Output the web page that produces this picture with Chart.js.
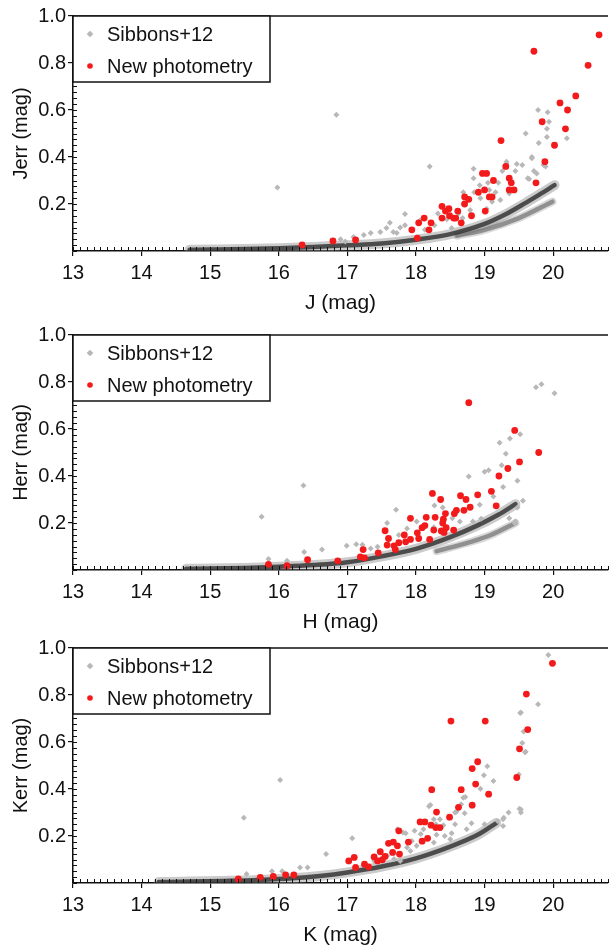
<!DOCTYPE html>
<html>
<head>
<meta charset="utf-8">
<script src="https://cdn.jsdelivr.net/npm/chart.js@4.4.1/dist/chart.umd.min.js"></script>
<style>
  html, body { margin: 0; padding: 0; background: #fff; }
  body { width: 612px; height: 947px; position: relative; overflow: hidden; }
  .panel { position: absolute; left: 0; width: 612px; height: 316px; }
</style>
</head>
<body>
<div class="panel" style="top:0px"><canvas id="jChart"></canvas></div>
<div class="panel" style="top:319px"><canvas id="hChart"></canvas></div>
<div class="panel" style="top:632px"><canvas id="kChart"></canvas></div>
<script>
// tick labels
const xTicks = [13, 14, 15, 16, 17, 18, 19, 20];
const yTicks = [0.2, 0.4, 0.6, 0.8, 1.0];

// J band: [mag, err]
const jOld = [[15.98,0.27],[16.84,0.58],[19.78,0.60],[19.92,0.59],[19.94,0.55],[19.91,0.52],[19.60,0.50],[19.79,0.46],
  [19.91,0.485],[20.20,0.48],[19.69,0.395],[19.47,0.37],[19.72,0.34],[19.76,0.33],[19.63,0.31],[19.89,0.36],[19.32,0.37],
  [19.45,0.34],[19.26,0.34],[18.20,0.36],[18.84,0.35],[19.20,0.29],[19.05,0.29],[19.16,0.25],[19.36,0.245],[18.84,0.31],
  [18.93,0.28],[18.85,0.25],[19.11,0.21],[18.69,0.20],[18.79,0.175],[18.62,0.16],[18.32,0.16],[18.45,0.135],[17.84,0.157],
  [18.06,0.13],[17.84,0.11],[17.72,0.077],[18.27,0.11],[18.13,0.09],[18.52,0.098],[18.68,0.14],[19.03,0.18],[18.94,0.225],
  [18.69,0.25],[17.62,0.12],[17.34,0.077],[17.48,0.081],[17.09,0.06],[16.90,0.05],[16.97,0.04],[17.24,0.068],[17.77,0.10],
  [17.57,0.098],[17.67,0.081],[19.32,0.38],[19.55,0.366],[19.69,0.40],[19.86,0.366],[19.65,0.306],[19.23,0.217],[19.07,0.26]];
const jNew = [[20.67,0.92],[19.72,0.85],[20.51,0.79],[20.33,0.66],[20.10,0.63],[20.21,0.60],[19.84,0.55],[20.18,0.52],
  [19.24,0.47],[20.02,0.45],[19.88,0.38],[19.31,0.36],[18.97,0.33],[19.03,0.33],[19.13,0.30],[19.36,0.31],[19.39,0.29],
  [19.75,0.29],[19.36,0.26],[19.43,0.26],[19.00,0.26],[18.91,0.25],[18.71,0.23],[19.07,0.23],[19.11,0.23],[18.77,0.22],
  [18.71,0.20],[18.38,0.19],[19.01,0.17],[18.48,0.18],[18.43,0.17],[18.61,0.17],[18.49,0.15],[18.38,0.14],[18.55,0.14],
  [18.58,0.14],[18.66,0.12],[18.81,0.15],[18.12,0.14],[18.04,0.12],[18.22,0.12],[17.94,0.09],[18.19,0.09],[18.02,0.055],
  [17.12,0.047],[16.79,0.043],[16.34,0.026]];
const jBand = [[14.7,0.005],[15.0,0.006],[15.5,0.008],[16.0,0.012],[16.5,0.017],[17.0,0.024],[17.5,0.032],[18.0,0.048],
  [18.5,0.072],[19.0,0.115],[19.3,0.155],[19.6,0.205],[19.8,0.24],[20.02,0.28]];
const jLower = [[18.6,0.065],[19.0,0.09],[19.5,0.14],[19.99,0.21]];

// H band
const hOld = [[19.75,0.778],[19.83,0.79],[20.02,0.752],[19.52,0.578],[19.37,0.56],[19.22,0.542],[19.31,0.495],[19.25,0.446],
  [19.48,0.38],[19.27,0.353],[19.00,0.418],[19.06,0.424],[18.77,0.398],[18.93,0.278],[19.13,0.313],[17.71,0.256],[17.58,0.20],
  [18.27,0.275],[18.39,0.266],[19.56,0.295],[19.48,0.266],[19.36,0.22],[19.44,0.20],[18.53,0.22],[18.64,0.206],[18.83,0.206],
  [18.95,0.218],[18.01,0.206],[17.87,0.177],[17.75,0.149],[17.34,0.091],[17.44,0.099],[18.26,0.182],[19.45,0.206],[17.22,0.107],
  [17.13,0.11],[16.99,0.103],[16.63,0.087],[16.37,0.077],[15.75,0.227],[16.36,0.36],[15.85,0.047],[16.12,0.039]];
const hNew = [[18.77,0.712],[19.44,0.594],[19.79,0.50],[19.51,0.46],[19.34,0.432],[19.21,0.40],[19.10,0.335],[19.17,0.273],
  [18.90,0.32],[18.65,0.316],[18.73,0.30],[18.79,0.267],[18.24,0.326],[18.36,0.30],[18.70,0.254],[18.59,0.254],[18.56,0.24],
  [18.43,0.24],[18.28,0.224],[18.15,0.224],[17.92,0.22],[18.40,0.216],[18.39,0.20],[18.13,0.189],[18.09,0.18],[18.44,0.18],
  [18.26,0.17],[18.55,0.17],[18.37,0.166],[18.41,0.16],[18.02,0.158],[17.55,0.167],[17.83,0.149],[18.04,0.134],[18.20,0.13],
  [17.92,0.13],[17.60,0.134],[17.75,0.116],[17.85,0.12],[17.58,0.106],[17.68,0.103],[17.70,0.087],[17.45,0.073],[17.23,0.087],
  [17.19,0.056],[17.25,0.052],[16.86,0.039],[16.42,0.044],[15.85,0.024],[16.12,0.018]];
const hBand = [[14.65,0.005],[15.0,0.006],[15.5,0.009],[16.0,0.014],[16.5,0.021],[17.0,0.033],[17.5,0.058],[18.0,0.09],
  [18.5,0.14],[18.9,0.19],[19.2,0.235],[19.45,0.28]];
const hLower = [[18.3,0.08],[18.8,0.12],[19.1,0.15],[19.45,0.20]];

// K band
const kOld = [[15.49,0.278],[16.02,0.438],[15.53,0.038],[15.90,0.05],[16.05,0.05],[16.31,0.066],[19.93,0.97],[19.78,0.761],
  [19.53,0.726],[19.57,0.645],[19.55,0.596],[19.60,0.558],[19.50,0.462],[19.53,0.313],[19.53,0.30],[19.35,0.30],[19.27,0.271],
  [19.04,0.497],[18.99,0.458],[19.13,0.434],[18.72,0.366],[18.66,0.335],[18.59,0.303],[18.21,0.332],[17.07,0.19],[16.69,0.123],
  [16.42,0.066],[17.81,0.215],[17.98,0.222],[18.26,0.271],[18.35,0.271],[18.29,0.25],[19.52,0.723],[19.59,0.556],[18.94,0.401],
  [18.69,0.363],[18.19,0.327],[18.57,0.30],[18.71,0.297],[19.51,0.316],[19.27,0.243],[18.81,0.254],[18.57,0.25],[18.40,0.246],
  [18.42,0.20],[18.30,0.205],[18.52,0.212],[17.85,0.212],[18.07,0.208],[17.94,0.179],[18.01,0.158],[17.87,0.151],[17.73,0.229],
  [17.92,0.136],[18.26,0.172],[18.50,0.186],[18.74,0.229],[19.00,0.25],[19.19,0.264],[19.28,0.278],[18.11,0.229],[17.58,0.116],
  [17.68,0.102],[17.77,0.094],[17.39,0.094]];
const kNew = [[19.99,0.935],[19.61,0.804],[18.51,0.689],[19.01,0.689],[19.63,0.653],[19.51,0.571],[18.90,0.516],[18.82,0.487],
  [19.47,0.449],[18.87,0.421],[18.23,0.397],[18.66,0.397],[19.06,0.378],[18.82,0.331],[18.62,0.322],[18.30,0.302],[18.49,0.28],
  [18.06,0.26],[18.13,0.26],[18.22,0.246],[18.29,0.236],[18.35,0.236],[17.75,0.222],[18.17,0.19],[18.09,0.178],[17.89,0.174],
  [17.67,0.174],[17.60,0.169],[17.73,0.158],[17.48,0.133],[17.66,0.13],[17.76,0.123],[17.39,0.111],[17.55,0.113],[17.44,0.094],
  [17.51,0.099],[17.31,0.069],[17.02,0.094],[17.10,0.109],[17.12,0.066],[17.25,0.08],[15.41,0.017],[15.73,0.024],[15.92,0.028],
  [16.10,0.035],[16.22,0.034]];
const kBand = [[14.25,0.004],[14.7,0.006],[15.2,0.009],[15.7,0.013],[16.2,0.02],[16.6,0.03],[17.0,0.045],[17.5,0.07],
  [18.0,0.105],[18.5,0.155],[18.9,0.205],[19.17,0.255]];
const kLower = [];

const FONT = '"Liberation Sans", Arial, sans-serif';
const INK = '#111';
const RED = '#f21a1a';
const GRAY = '#b8b8b8';

const toXY = pts => pts.map(p => ({ x: p[0], y: p[1] }));

// frame: top border line and inward minor ticks
const framePlugin = {
  id: 'frame',
  afterDatasetsDraw(chart) {
    const { ctx, chartArea: a, scales: { x, y } } = chart;
    ctx.save();
    ctx.strokeStyle = INK;
    ctx.lineWidth = 1.5;
    ctx.beginPath();
    ctx.moveTo(a.left, a.top);
    ctx.lineTo(a.right, a.top);
    ctx.stroke();
    ctx.lineWidth = 1;
    ctx.beginPath();
    for (let i = 0; i <= 78; i++) {
      const px = Math.round(x.getPixelForValue(13 + i / 10)) + 0.5;
      ctx.moveTo(px, a.bottom);
      ctx.lineTo(px, a.bottom - 4);
    }
    for (let i = 0; i <= 40; i++) {
      const py = Math.round(y.getPixelForValue(i * 0.025)) + 0.5;
      ctx.moveTo(a.left, py);
      ctx.lineTo(a.left + 4, py);
    }
    ctx.stroke();
    ctx.restore();
  }
};

// boxed legend in the upper left corner
const legendPlugin = {
  id: 'boxLegend',
  afterDraw(chart) {
    const { ctx, chartArea: a } = chart;
    const x0 = a.left, y0 = a.top, w = 197, h = 66;
    ctx.save();
    ctx.fillStyle = '#fff';
    ctx.fillRect(x0, y0, w, h);
    ctx.strokeStyle = INK;
    ctx.lineWidth = 1.5;
    ctx.strokeRect(x0, y0, w, h);
    const items = chart.data.datasets.filter(d => d.legendRank !== undefined)
      .sort((p, q) => p.legendRank - q.legendRank);
    items.forEach((d, i) => {
      const cx = x0 + 17, cy = y0 + 18 + i * 32, r = 2.8;
      ctx.fillStyle = d.backgroundColor;
      ctx.beginPath();
      if (d.pointStyle === 'rectRot') {
        ctx.moveTo(cx, cy - r * 1.2); ctx.lineTo(cx + r * 1.2, cy);
        ctx.lineTo(cx, cy + r * 1.2); ctx.lineTo(cx - r * 1.2, cy);
        ctx.closePath();
      } else {
        ctx.arc(cx, cy, r, 0, Math.PI * 2);
      }
      ctx.fill();
      ctx.fillStyle = INK;
      ctx.font = '20px ' + FONT;
      ctx.textBaseline = 'middle';
      ctx.fillText(d.label, x0 + 34, cy + 1);
    });
    ctx.restore();
  }
};

function bandLine(label, pts, color, width, order) {
  return { label, data: toXY(pts), showLine: true, pointRadius: 0, borderColor: color, borderWidth: width,
    borderCapStyle: 'round', cubicInterpolationMode: 'monotone', order };
}

function makePanel(id, xTitle, yTitle, oldPts, newPts, band, lower) {
  const datasets = [
    { label: 'New photometry', legendRank: 1, data: toXY(newPts), pointStyle: 'circle', pointRadius: 3.4,
      backgroundColor: RED, borderWidth: 0, order: 0 },
    { label: 'Sibbons+12', legendRank: 0, data: toXY(oldPts), pointStyle: 'rectRot', pointRadius: 3,
      backgroundColor: GRAY, borderWidth: 0, order: 1 },
    bandLine('band', band, 'rgba(45,45,45,0.8)', 4.5, 2),
    bandLine('bandHalo', band, 'rgba(140,140,140,0.45)', 10, 4)
  ];
  if (lower.length) {
    datasets.push(bandLine('band2', lower, 'rgba(105,105,105,0.65)', 4.5, 3));
    datasets.push(bandLine('band2Halo', lower, 'rgba(160,160,160,0.4)', 8, 5));
  }

  return new Chart(document.getElementById(id), {
    type: 'scatter',
    data: { datasets },
    options: {
      responsive: true,
      maintainAspectRatio: false,
      animation: false,
      layout: { padding: { top: 16, left: 0, right: 0, bottom: 0 } },
      plugins: { legend: { display: false }, tooltip: { enabled: false } },
      scales: {
        x: {
          type: 'linear', min: 13, max: 20.8,
          afterBuildTicks: s => { s.ticks = xTicks.map(v => ({ value: v })); },
          afterFit: s => { s.height = 65; },
          grid: { drawOnChartArea: false, drawTicks: true, tickLength: 5, color: INK, lineWidth: 1.2 },
          border: { display: true, color: INK, width: 1.5 },
          ticks: { color: INK, font: { family: FONT, size: 20 }, padding: 5, callback: v => String(v) },
          title: { display: true, text: xTitle, color: INK, font: { family: FONT, size: 21 }, padding: { top: 0, bottom: 0 } }
        },
        y: {
          type: 'linear', min: 0, max: 1.0,
          afterBuildTicks: s => { s.ticks = yTicks.map(v => ({ value: v })); },
          afterFit: s => { s.width = 73; },
          grid: { drawOnChartArea: false, drawTicks: true, tickLength: 5, color: INK, lineWidth: 1.2 },
          border: { display: true, color: INK, width: 1.5 },
          ticks: { color: INK, font: { family: FONT, size: 20 }, padding: 2, callback: v => v.toFixed(1) },
          title: { display: true, text: yTitle, color: INK, font: { family: FONT, size: 20 }, padding: { top: 9, bottom: 0 } }
        }
      }
    },
    plugins: [framePlugin, legendPlugin]
  });
}

makePanel('jChart', 'J (mag)', 'Jerr (mag)', jOld, jNew, jBand, jLower);
makePanel('hChart', 'H (mag)', 'Herr (mag)', hOld, hNew, hBand, hLower);
makePanel('kChart', 'K (mag)', 'Kerr (mag)', kOld, kNew, kBand, kLower);
</script>
</body>
</html>
